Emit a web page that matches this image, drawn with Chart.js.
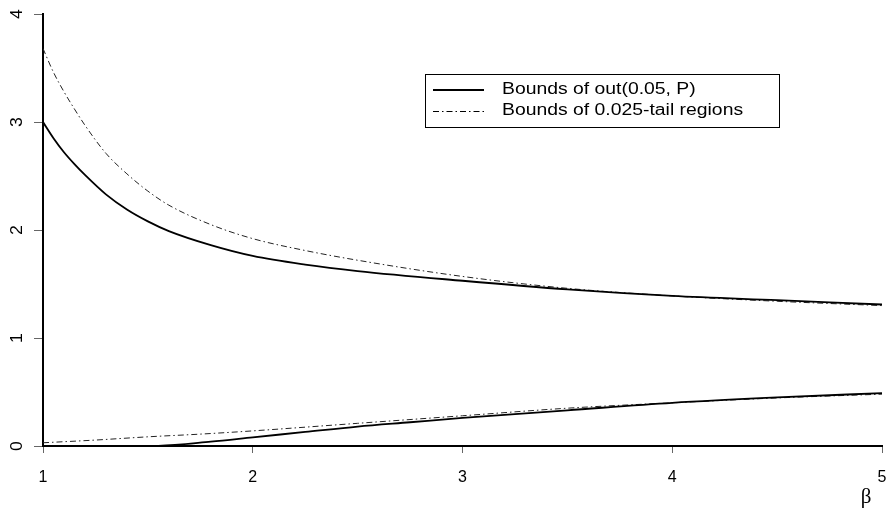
<!DOCTYPE html>
<html>
<head>
<meta charset="utf-8">
<script src="https://cdn.jsdelivr.net/npm/chart.js@4"></script>
<style>
	html, body { margin: 0; padding: 0; background: #fff; }
	#wrap { width: 888px; height: 514px; }
</style>
</head>
<body>
<div id="wrap"><canvas id="boundsChart" width="888" height="514"></canvas></div>
<script>
// values
var betaUpper = [1.0, 1.05, 1.1, 1.15, 1.2, 1.3, 1.4, 1.5, 1.6, 1.8, 2.0, 2.25, 2.5, 3.0, 3.5, 4.0, 4.5, 5.0];
var outUpper  = [3.00, 2.85, 2.72, 2.61, 2.51, 2.33, 2.19, 2.08, 1.99, 1.86, 1.76, 1.68, 1.62, 1.53, 1.45, 1.39, 1.35, 1.31];
var tailUpper = [3.68, 3.46, 3.28, 3.12, 2.97, 2.71, 2.52, 2.36, 2.23, 2.05, 1.92, 1.81, 1.72, 1.57, 1.46, 1.39, 1.34, 1.30];

var betaOutLower = [1.0, 1.2, 1.4, 1.55, 1.8, 2.0, 2.25, 2.5, 2.75, 3.0, 3.5, 4.0, 4.5, 5.0];
var outLower     = [0, 0, 0, 0.002, 0.04, 0.08, 0.13, 0.18, 0.22, 0.26, 0.33, 0.40, 0.45, 0.49];

var betaTailLower = [1.0, 1.25, 1.5, 1.75, 2.0, 2.5, 3.0, 3.5, 4.0, 4.5, 5.0];
var tailLower     = [0.03, 0.055, 0.085, 0.11, 0.14, 0.21, 0.28, 0.35, 0.40, 0.445, 0.48];

var xTicks = [1, 2, 3, 4, 5];
var yTicks = [0, 1, 2, 3, 4];
var legendLabels = ["Bounds of out(0.05, P)", "Bounds of 0.025-tail regions"];
var axisTitle = "\u03b2";

var dotDash = [6, 3, 1.5, 3];

function toPoints(xs, ys) {
	var pts = [];
	for (var i = 0; i < xs.length; i++) {
		pts.push({ x: xs[i], y: ys[i] });
	}
	return pts;
}

function lineSet(xs, ys, width, dash, color) {
	return {
		data: toPoints(xs, ys),
		borderColor: color,
		borderWidth: width,
		borderDash: dash,
		pointRadius: 0,
		fill: false,
		cubicInterpolationMode: "monotone"
	};
}

// draws the rotated y labels, the beta title and the boxed legend
var extras = {
	id: "extras",
	afterDraw: function(chart) {
		var ctx = chart.ctx;
		var yScale = chart.scales.y;
		ctx.save();
		ctx.fillStyle = "#000";
		ctx.font = "16px 'Liberation Sans', Arial, sans-serif";
		ctx.textAlign = "center";
		ctx.textBaseline = "middle";
		for (const v of yTicks) {
			ctx.save();
			ctx.translate(18, yScale.getPixelForValue(v));
			ctx.rotate(-Math.PI / 2);
			ctx.scale(1.1, 1);
			ctx.fillText(String(v), 0, 0);
			ctx.restore();
		}

		ctx.font = "21px 'Liberation Serif', 'DejaVu Serif', serif";
		ctx.fillText(axisTitle, 866, 497);

		// legend
		var bx = 425, by = 74, bw = 354, bh = 53;
		ctx.strokeStyle = "#000";
		ctx.lineWidth = 1;
		ctx.setLineDash([]);
		ctx.strokeRect(bx + 0.5, by + 0.5, bw, bh);

		var rows = [90, 111];
		ctx.lineWidth = 2;
		ctx.beginPath();
		ctx.moveTo(433, rows[0]);
		ctx.lineTo(484, rows[0]);
		ctx.stroke();

		ctx.lineWidth = 1;
		ctx.setLineDash(dotDash);
		ctx.beginPath();
		ctx.moveTo(433, rows[1] + 0.5);
		ctx.lineTo(484, rows[1] + 0.5);
		ctx.stroke();
		ctx.setLineDash([]);

		ctx.font = "16px 'Liberation Sans', Arial, sans-serif";
		ctx.textAlign = "left";
		for (var i = 0; i < legendLabels.length; i++) {
			ctx.save();
			ctx.translate(502, rows[i]);
			ctx.scale(1.21, 1);
			ctx.fillText(legendLabels[i], 0, 0);
			ctx.restore();
		}
		ctx.restore();
	}
};

var ctx = document.getElementById("boundsChart").getContext("2d");
var chart = new Chart(ctx, {
	type: "line",
	data: {
		datasets: [
			lineSet(betaUpper, outUpper, 1.8, [], "#000"),
			lineSet(betaOutLower, outLower, 1.8, [], "#000"),
			lineSet(betaUpper, tailUpper, 1, dotDash, "#222"),
			lineSet(betaTailLower, tailLower, 1, dotDash, "#222")
		]
	},
	options: {
		responsive: false,
		animation: false,
		layout: { padding: { top: 14, right: 6, left: 0, bottom: 0 } },
		plugins: {
			legend: { display: false },
			tooltip: { enabled: false }
		},
		scales: {
			x: {
				type: "linear",
				min: 1,
				max: 5,
				afterBuildTicks: function(scale) {
					scale.ticks = xTicks.map(v => ({ value: v }));
				},
				afterFit: function(scale) {
					scale.height = 68;
					scale.paddingLeft = 0;
					scale.paddingRight = 0;
				},
				border: { display: true, color: "#000", width: 2 },
				grid: { drawOnChartArea: false, drawTicks: true, tickLength: 7, color: "#666", lineWidth: 1 },
				ticks: {
					color: "#000",
					padding: 15,
					maxRotation: 0,
					font: { family: "'Liberation Sans', Arial, sans-serif", size: 16 }
				}
			},
			y: {
				type: "linear",
				min: 0,
				max: 4,
				afterBuildTicks: function(scale) {
					scale.ticks = yTicks.map(v => ({ value: v }));
				},
				afterFit: function(scale) { scale.width = 43; },
				border: { display: true, color: "#000", width: 2 },
				grid: { drawOnChartArea: false, drawTicks: true, tickLength: 9, color: "#666", lineWidth: 1 },
				ticks: { display: false }
			}
		}
	},
	plugins: [extras]
});
</script>
</body>
</html>
